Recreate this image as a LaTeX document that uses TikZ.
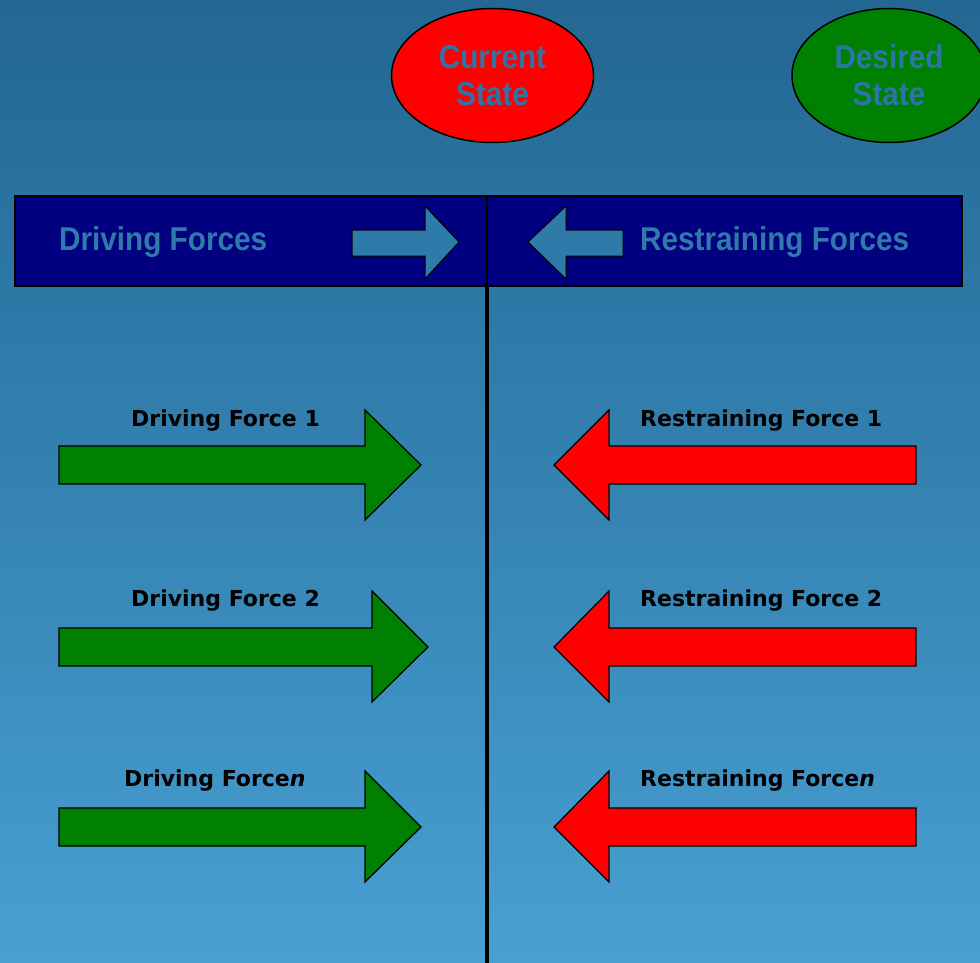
\documentclass[tikz,border=0pt]{standalone}
\usepackage{fontspec}
\usetikzlibrary{shapes.geometric}
\setmainfont{DejaVu Sans}
\newfontfamily\headfont[FakeStretch=0.9]{Liberation Sans}
\begin{document}
\begin{tikzpicture}[x=1pt,y=-1pt,
  lbl/.style={anchor=base west,inner sep=0pt,font=\bfseries\fontsize{22}{26}\selectfont,text=black},
  headlbl/.style={anchor=base west,inner sep=0pt,font=\headfont\bfseries\fontsize{33}{37}\selectfont,text=hdtext},
  stateell/.style={ellipse,draw=black,line width=1.5pt,inner sep=0pt,align=center,
     font=\headfont\bfseries\fontsize{33}{37}\selectfont,text=sttext},
  greenarrow/.style={fill=fgreen,draw=black,line width=1.2pt,line join=miter},
  redarrow/.style={fill=fred,draw=black,line width=1.2pt,line join=miter},
  smallarrow/.style={fill=hdtext,draw=black,line width=1pt,line join=miter}]
\definecolor{bgtopc}{RGB}{35,103,146}
\definecolor{bgmidc}{RGB}{52,130,178}
\definecolor{bgbotc}{RGB}{72,160,210}
\definecolor{hdtext}{RGB}{46,123,170}
\definecolor{sttext}{RGB}{46,116,168}
\definecolor{navy}{RGB}{0,0,128}
\definecolor{fgreen}{RGB}{0,128,0}
\definecolor{fred}{RGB}{255,0,0}
\useasboundingbox (0,0) rectangle (980,963);
\shade[top color=bgtopc,bottom color=bgbotc,middle color=bgmidc] (0,0) rectangle (980,963);
% ellipses
\node[stateell,fill=fred,minimum width=202pt,minimum height=134pt] (cur) at (492.5,75.5) {Current\\State};
\node[stateell,fill=fgreen,minimum width=194pt,minimum height=134pt] (des) at (889,75.5) {Desired\\State};
% header bar
\draw[fill=navy,draw=black,line width=1.5pt] (15,196) rectangle (962,286);
\coordinate (ltop) at (487,196);
\coordinate (lmid) at (487,286);
\coordinate (lbot) at (487,963);
\draw[line width=1.5pt] (ltop) -- (lmid);
\draw[line width=4pt] (lmid) -- (lbot);
\node[headlbl] (dfh) at (59,250) {Driving Forces};
\node[headlbl] (rfh) at (640,250) {Restraining Forces};
\draw[smallarrow] (352,230) -- (425,230) -- (425,206) -- (459,242) -- (425,279) -- (425,256) -- (352,256) -- cycle;
\draw[smallarrow] (623,230) -- (566,230) -- (566,206) -- (528,242) -- (566,279) -- (566,256) -- (623,256) -- cycle;
% driving arrows
\draw[greenarrow] (59,446) -- (365,446) -- (365,410) -- (421,465) -- (365,520) -- (365,484) -- (59,484) -- cycle;
\draw[greenarrow] (59,628) -- (372,628) -- (372,591) -- (428,647) -- (372,702) -- (372,666) -- (59,666) -- cycle;
\draw[greenarrow] (59,808) -- (365,808) -- (365,771) -- (421,827) -- (365,882) -- (365,846) -- (59,846) -- cycle;
% restraining arrows
\draw[redarrow] (916,446) -- (609,446) -- (609,410) -- (554,465) -- (609,520) -- (609,484) -- (916,484) -- cycle;
\draw[redarrow] (916,628) -- (609,628) -- (609,591) -- (554,647) -- (609,702) -- (609,666) -- (916,666) -- cycle;
\draw[redarrow] (916,808) -- (609,808) -- (609,771) -- (554,827) -- (609,882) -- (609,846) -- (916,846) -- cycle;
% labels
\node[lbl] (d1) at (131,426) {Driving Force 1};
\node[lbl] (d2) at (131,606) {Driving Force 2};
\node[lbl] (dn) at (124,786) {Driving Force\textit{n}};
\node[lbl] (r1) at (640,426) {Restraining Force 1};
\node[lbl] (r2) at (640,606) {Restraining Force 2};
\node[lbl] (rn) at (640,786) {Restraining Force\textit{n}};
\end{tikzpicture}
\end{document}
